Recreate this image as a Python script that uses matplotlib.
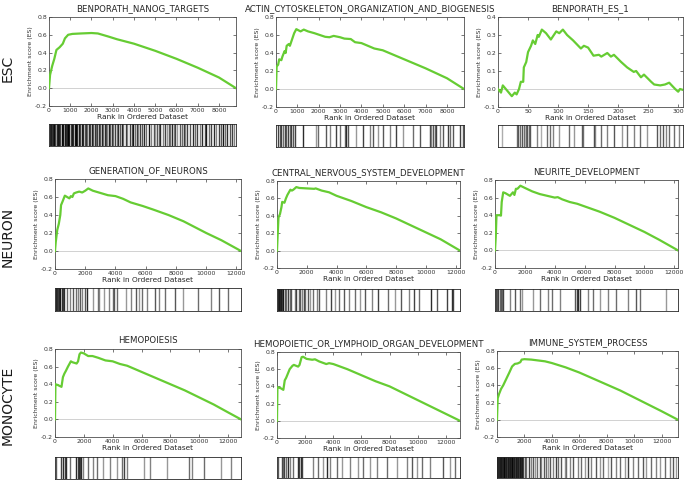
import matplotlib
matplotlib.use("Agg")
import matplotlib.pyplot as plt

plt.rcParams['font.family'] = ['DejaVu Sans']

# ---------------- data ----------------
row_labels = ["ESC", "NEURON", "MONOCYTE"]

titles = [
    "BENPORATH_NANOG_TARGETS", "ACTIN_CYTOSKELETON_ORGANIZATION_AND_BIOGENESIS", "BENPORATH_ES_1",
    "GENERATION_OF_NEURONS", "CENTRAL_NERVOUS_SYSTEM_DEVELOPMENT", "NEURITE_DEVELOPMENT",
    "HEMOPOIESIS", "HEMOPOIETIC_OR_LYMPHOID_ORGAN_DEVELOPMENT", "IMMUNE_SYSTEM_PROCESS",
]

n_ranks = [8800, 8800, 308, 12300, 12300, 12250, 12900, 13000, 13200]

x_ticks = [
    [0, 1000, 2000, 3000, 4000, 5000, 6000, 7000, 8000],
    [0, 1000, 2000, 3000, 4000, 5000, 6000, 7000, 8000],
    [0, 50, 100, 150, 200, 250, 300],
    [0, 2000, 4000, 6000, 8000, 10000, 12000],
    [0, 2000, 4000, 6000, 8000, 10000, 12000],
    [0, 2000, 4000, 6000, 8000, 10000, 12000],
    [0, 2000, 4000, 6000, 8000, 10000, 12000],
    [0, 2000, 4000, 6000, 8000, 10000, 12000],
    [0, 2000, 4000, 6000, 8000, 10000, 12000],
]
y_ticks_main = [-0.2, 0.0, 0.2, 0.4, 0.6, 0.8]
y_ticks_es1 = [-0.1, 0.0, 0.1, 0.2, 0.3, 0.4]

# running enrichment score curves (rank, ES)
es_nanog_x = [0, 50, 150, 250, 350, 500, 650, 750, 900, 1100, 1500, 2000, 2300, 2800, 3200, 4000, 5000, 6000, 7000, 8000, 8800]
es_nanog_y = [0, 0.15, 0.25, 0.33, 0.43, 0.46, 0.50, 0.56, 0.60, 0.61, 0.615, 0.62, 0.615, 0.58, 0.55, 0.50, 0.42, 0.33, 0.23, 0.12, 0.0]

es_actin_x = [0, 30, 100, 150, 250, 300, 400, 450, 500, 600, 650, 750, 850, 950, 1150, 1300, 1500, 1800, 2300, 2500, 2700, 3000, 3200, 3500, 3700, 4000, 4300, 4600, 5000, 6000, 7000, 8000, 8800]
es_actin_y = [0, 0.25, 0.27, 0.33, 0.32, 0.36, 0.42, 0.40, 0.48, 0.50, 0.48, 0.55, 0.62, 0.665, 0.64, 0.66, 0.64, 0.62, 0.58, 0.575, 0.59, 0.575, 0.56, 0.555, 0.52, 0.51, 0.48, 0.45, 0.43, 0.33, 0.23, 0.12, 0.0]

es_es1_x = [0, 5, 8, 23, 28, 31, 35, 38, 42, 43, 47, 50, 55, 58, 62, 66, 68, 73, 80, 88, 97, 102, 108, 115, 125, 138, 143, 150, 159, 168, 172, 182, 188, 193, 205, 215, 226, 230, 238, 243, 255, 260, 270, 278, 285, 295, 300, 303, 308]
es_es1_y = [0.0, -0.02, 0.02, -0.04, -0.02, -0.03, 0.0, 0.04, 0.04, 0.12, 0.15, 0.205, 0.24, 0.27, 0.25, 0.30, 0.29, 0.33, 0.31, 0.275, 0.32, 0.31, 0.33, 0.30, 0.27, 0.225, 0.24, 0.23, 0.185, 0.19, 0.18, 0.20, 0.18, 0.19, 0.15, 0.12, 0.095, 0.10, 0.065, 0.08, 0.04, 0.025, 0.02, 0.025, 0.035, 0.0, -0.015, 0.0, -0.005]

es_gen_x = [0, 50, 150, 250, 350, 400, 500, 650, 800, 950, 1050, 1150, 1250, 1400, 1600, 1800, 2000, 2200, 2500, 3000, 3500, 4000, 4500, 5000, 5800, 6500, 7500, 8500, 10000, 11000, 12300]
es_gen_y = [0, 0.10, 0.235, 0.30, 0.40, 0.51, 0.55, 0.615, 0.60, 0.585, 0.61, 0.60, 0.64, 0.65, 0.66, 0.65, 0.67, 0.695, 0.67, 0.645, 0.62, 0.61, 0.58, 0.54, 0.50, 0.46, 0.40, 0.33, 0.20, 0.12, 0.0]

es_cns_x = [0, 50, 100, 200, 300, 350, 500, 600, 700, 900, 1000, 1100, 1300, 1500, 2000, 2500, 2600, 3000, 3500, 4000, 5000, 6000, 7000, 8000, 9000, 10000, 11000, 12300]
es_cns_y = [0, 0.20, 0.38, 0.42, 0.50, 0.56, 0.55, 0.60, 0.64, 0.70, 0.69, 0.70, 0.73, 0.72, 0.715, 0.71, 0.715, 0.69, 0.67, 0.63, 0.57, 0.50, 0.44, 0.37, 0.29, 0.21, 0.13, 0.0]

es_neurite_x = [0, 50, 100, 300, 400, 450, 550, 700, 1000, 1100, 1200, 1300, 1400, 1500, 1700, 2000, 2500, 3000, 3500, 4000, 4200, 4500, 5000, 5500, 6000, 7000, 8000, 9000, 10000, 11000, 12250]
es_neurite_y = [0, 0.15, 0.40, 0.40, 0.395, 0.55, 0.66, 0.65, 0.62, 0.64, 0.66, 0.63, 0.70, 0.70, 0.735, 0.71, 0.67, 0.64, 0.62, 0.60, 0.605, 0.58, 0.55, 0.53, 0.50, 0.44, 0.37, 0.29, 0.21, 0.12, 0.0]

es_hemo_x = [0, 30, 200, 450, 550, 650, 750, 900, 1000, 1100, 1200, 1500, 1600, 1700, 1800, 2000, 2300, 2600, 3000, 3500, 4000, 4500, 5000, 6000, 7000, 8000, 9000, 10000, 11000, 12000, 12900]
es_hemo_y = [0, 0.40, 0.39, 0.37, 0.48, 0.52, 0.55, 0.60, 0.63, 0.66, 0.65, 0.635, 0.66, 0.74, 0.76, 0.75, 0.72, 0.72, 0.70, 0.67, 0.66, 0.63, 0.61, 0.54, 0.47, 0.40, 0.33, 0.25, 0.17, 0.08, 0.0]

es_lymph_x = [0, 30, 250, 450, 550, 650, 800, 900, 1100, 1200, 1500, 1600, 1750, 1850, 2100, 2500, 2700, 3000, 3500, 3700, 4000, 4500, 5000, 6000, 7000, 8000, 9000, 10000, 11000, 12000, 13000]
es_lymph_y = [0, 0.39, 0.38, 0.36, 0.47, 0.50, 0.56, 0.60, 0.64, 0.65, 0.63, 0.65, 0.74, 0.745, 0.72, 0.71, 0.715, 0.69, 0.66, 0.67, 0.66, 0.63, 0.60, 0.53, 0.46, 0.40, 0.32, 0.24, 0.16, 0.08, 0.0]

es_immune_x = [0, 50, 150, 300, 450, 600, 750, 900, 1100, 1300, 1500, 1700, 1800, 2000, 2500, 3000, 3500, 4000, 5000, 6000, 7000, 8000, 9000, 10000, 11000, 12000, 13200]
es_immune_y = [0, 0.25, 0.30, 0.36, 0.40, 0.45, 0.50, 0.55, 0.62, 0.65, 0.655, 0.67, 0.70, 0.705, 0.70, 0.69, 0.68, 0.66, 0.61, 0.55, 0.48, 0.41, 0.34, 0.26, 0.18, 0.10, 0.0]

# gene-set hit positions (ranks) and gray level of each hit (0 = black, 9 = light)
hits_nanog = [50, 80, 130, 170, 210, 250, 300, 360, 390, 440, 490, 530, 600, 640, 680, 740, 790, 830, 900, 960,
              1020, 1070, 1150, 1210, 1270, 1340, 1400, 1460, 1540, 1620, 1700, 1740, 1810, 1870, 1930, 2010, 2090,
              2170, 2210, 2280, 2360, 2400, 2480, 2560, 2620, 2690, 2750, 2810, 2870, 2950, 3030, 3110, 3190, 3270,
              3340, 3420, 3500, 3630, 3690, 3790, 3900, 3970, 4050, 4130, 4210, 4290, 4370, 4450, 4580, 4690, 4800,
              4920, 5000, 5080, 5160, 5230, 5360, 5470, 5550, 5630, 5710, 5780, 5860, 5940, 6020, 6180, 6260, 6340,
              6420, 6500, 6650, 6780, 6890, 6970, 7100, 7200, 7320, 7410, 7520, 7630, 7750, 7880, 7990, 8100, 8190,
              8300, 8380, 8500, 8620, 8700]
shade_nanog = ("2131203121" "1302112201" "3121021312" "4252314253" "2415236142" "5362415263"
               "4152634251" "6374526374" "5263745263" "4253624153" "2634152436")

hits_actin = [94, 172, 250, 328, 406, 484, 562, 640, 718, 796, 874, 1264, 1888, 1966, 2356, 2512, 2824, 2980,
              3214, 3292, 3370, 3760, 4072, 4384, 4540, 4774, 5008, 5320, 5632, 5944, 6412, 6724, 7192, 7270,
              7348, 7426, 7504, 7660, 7816, 8050, 8128, 8284, 8596, 8752]
shade_actin = "3435343534" "3" "2" "75" "46" "35" "524" "7" "3" "64" "7" "4" "6" "3" "7" "5" "4" "3645" "3" "6" "4" "35" "4" "3" "4"

hits_es1 = [7, 31, 33, 37, 40, 43, 46, 47, 48, 51, 53, 65, 72, 82, 86, 91, 101, 118, 126, 140, 142, 159, 162,
            171, 182, 193, 207, 215, 226, 237, 248, 265, 269, 275, 279, 284, 293, 301]
shade_es1 = "8" "5454545454" "68556757" "45" "36" "56" "4" "75" "65" "7" "4546" "556"

hits_gen = [65, 109, 152, 217, 283, 348, 435, 500, 587, 761, 978, 1196, 1370, 1522, 1631, 1804, 1957, 2109,
            2500, 2826, 2935, 3261, 3587, 3805, 3913, 4131, 4674, 5000, 5326, 5544, 5761, 6087, 6631, 6848,
            7283, 7935, 8479, 9457, 10327, 10870, 11413]
shade_gen = "212321232" "564564642" "75676545" "76475646" "5475645"

hits_cns = [88, 154, 198, 242, 308, 374, 528, 638, 748, 858, 968, 1188, 1298, 1474, 1562, 1694, 1782, 1914,
            2068, 2222, 2398, 2662, 2838, 3278, 3608, 3894, 4158, 4488, 4818, 5258, 5588, 5918, 6358, 6798,
            7458, 7898, 8338, 8888, 9218, 9548, 10318, 10758, 11418, 11748, 11858]
shade_cns = "212131" "4535463546" "3547564637" "5465746357" "463524323"

hits_neurite = [89, 133, 200, 311, 400, 466, 533, 1021, 1354, 1687, 1798, 2575, 3019, 3574, 3796, 4351, 5350,
                5461, 5572, 5683, 6238, 6571, 7015, 7570, 8125, 8902, 9457, 9679, 11455]
shade_neurite = "3435453" "6457" "7565" "6" "4323" "6" "5" "7" "6" "5" "6" "4" "5" "7"

hits_hemo = [93, 443, 559, 676, 792, 1025, 1491, 1561, 1631, 1724, 1794, 1957, 2307, 2656, 2889, 3355, 3821,
             4287, 4637, 4753, 4986, 6151, 6617, 7782, 9297, 9530, 10345, 11510, 12209]
shade_hemo = "4" "3232" "5" "23232" "656576753676756576"

hits_lymph = [95, 332, 450, 521, 640, 806, 924, 1161, 1517, 1588, 1683, 1754, 2583, 2939, 3294, 3531, 3768,
              4242, 4598, 5190, 5783, 6138, 6612, 7086, 7797, 8508, 9219, 9575, 9930, 10286, 10878, 11826,
              12300, 12656]
shade_lymph = "4353526" "5" "2323" "6572657675765764756475"

hits_immune = [24, 73, 122, 170, 219, 267, 316, 365, 413, 462, 535, 608, 680, 753, 826, 899, 972, 1045, 1118,
               1190, 1264, 1337, 1409, 1482, 1555, 1628, 1701, 1774, 1847, 1895,
               2017, 2138, 2333, 2503, 2624, 2746, 2916, 3110, 3232, 3402, 3596, 3718, 3888, 4082, 4277, 4447,
               4690, 4933, 5054, 5297, 5540, 5905, 6148, 6391, 6634, 6877, 7241, 7484, 7727, 8092, 8335, 8699,
               8942, 9307, 9550, 9914, 10279, 10643, 10886, 11250, 11615, 11858, 12223, 12587, 12830, 13073]
shade_immune = "1212131212" "0213121202" "1312131213" "4536475364" "5746354756" "4657364758" "4657365475" "675647"

es_x = [es_nanog_x, es_actin_x, es_es1_x, es_gen_x, es_cns_x, es_neurite_x, es_hemo_x, es_lymph_x, es_immune_x]
es_y = [es_nanog_y, es_actin_y, es_es1_y, es_gen_y, es_cns_y, es_neurite_y, es_hemo_y, es_lymph_y, es_immune_y]
hits = [hits_nanog, hits_actin, hits_es1, hits_gen, hits_cns, hits_neurite, hits_hemo, hits_lymph, hits_immune]
shades = [shade_nanog, shade_actin, shade_es1, shade_gen, shade_cns, shade_neurite, shade_hemo, shade_lymph, shade_immune]

# ---------------- layout (pixels: left, right, top, bottom, barcode top, barcode bottom) ----------------
W, H = 685, 480
boxes = [
    (49, 236, 17, 106, 124, 146), (276, 464, 17, 107, 125, 147), (498, 683, 17, 107, 125, 147),
    (55, 241, 179, 269, 288, 311), (277, 460, 181, 268, 289, 311), (495, 678, 180, 268, 289, 311),
    (55, 241, 349, 437, 457, 479), (277, 460, 352, 438, 457, 478), (497, 678, 351, 437, 457, 478),
]
row_label_y = [68, 237, 405]

GREEN = '#66CC33'

fig = plt.figure(figsize=(W / 100, H / 100), dpi=100)

for i in range(9):
    l, r, t, b, bt, bb = boxes[i]
    ax = fig.add_axes([l / W, 1 - b / H, (r - l) / W, (b - t) / H])
    ax.axhline(0, color='0.75', lw=0.5, zorder=1)
    ax.plot(es_x[i], es_y[i], color=GREEN, lw=1.6, zorder=3)
    ax.set_xlim(0, n_ranks[i])
    ax.set_xticks(x_ticks[i])
    if i == 2:
        ax.set_ylim(-0.1, 0.4)
        ax.set_yticks(y_ticks_es1)
    else:
        ax.set_ylim(-0.2, 0.8)
        ax.set_yticks(y_ticks_main)
    ax.set_yticklabels(['%.1f' % v for v in ax.get_yticks()])
    ax.tick_params(direction='in', length=2, width=0.5, labelsize=4.4, pad=1.5,
                   top=True, right=True, colors='0.25', labelcolor='0.2')
    for s in ax.spines.values():
        s.set_linewidth(0.6)
        s.set_color('0.3')
    ax.set_title(titles[i], fontsize=6.2, pad=4, color='0.15')
    ax.set_xlabel('Rank in Ordered Dataset', fontsize=5.3, labelpad=0.5, color='0.15')
    ax.set_ylabel('Enrichment score (ES)', fontsize=4.5, labelpad=1.5, color='0.2')

    bx = fig.add_axes([l / W, 1 - bb / H, (r - l) / W, (bb - bt) / H])
    sh = shades[i].ljust(len(hits[i]), '5')
    for h, s in zip(hits[i], sh):
        bx.axvline(h, color=str(int(s) * 0.085), lw=1.0)
    bx.set_xlim(0, n_ranks[i])
    bx.set_ylim(0, 1)
    bx.set_xticks([])
    bx.set_yticks([])
    for s in bx.spines.values():
        s.set_linewidth(0.6)
        s.set_color('0.15')

for lab, y in zip(row_labels, row_label_y):
    fig.text(8 / W, 1 - y / H, lab, rotation=90, ha='center', va='center', fontsize=10, color='0.1')

fig.savefig('out.png', dpi=100)
